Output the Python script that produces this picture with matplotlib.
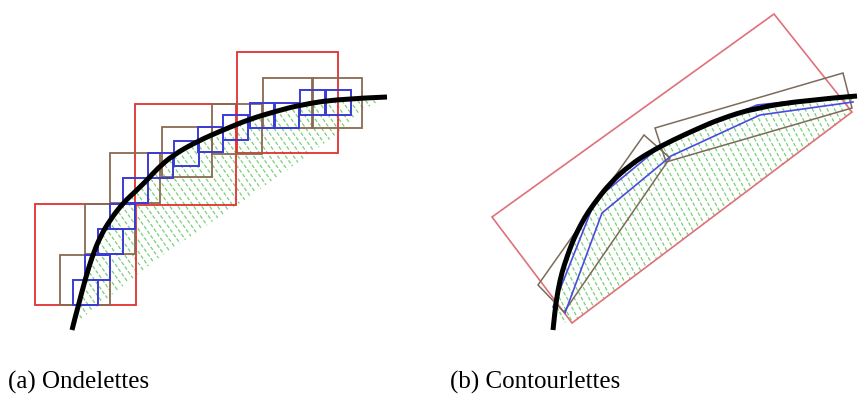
import numpy as np
import matplotlib
matplotlib.use("Agg")
import matplotlib.pyplot as plt
from matplotlib.patches import Polygon, Rectangle, PathPatch
from matplotlib.path import Path

# ---- panel (a): wavelet squares, pixel coords (x, y of top-left corner) ----
red_sq_a = [(35, 204, 101), (135, 104, 101), (237, 52, 101)]
brown_size = 50
brown_sq_a = [(60, 255), (85, 204), (110, 153), (162, 127), (212, 104), (263, 78), (312, 78)]
blue_size = 25
blue_sq_a = [(73, 280), (85, 255), (98, 229), (110, 204), (123, 178), (148, 153),
             (174, 141), (198, 127), (223, 115), (250, 103), (274, 103), (300, 90), (326, 90)]
curve_a_x = [72, 75, 78, 85, 92, 100, 110, 123, 137, 148, 157, 173, 198, 223, 250, 277, 300, 338, 387]
curve_a_y = [330, 318, 307, 280, 257, 237, 220, 203, 190, 179, 169, 155, 141, 130, 119, 111, 105, 99, 97]
lower_a_x = [387, 363, 333, 300, 240, 160, 77]
lower_a_y = [97, 110, 137, 161, 203, 257, 322]

# ---- panel (b): contourlet rectangles ----
red_rect_b = [(492, 217), (774, 14), (852, 112), (572, 323)]
brown_rects_b = [
    [(538, 285), (644, 135), (670, 158), (564, 312)],
    [(655, 128), (843, 73), (852, 108), (666, 162)],
]
blue_upper_b = [(553, 307), (593, 206), (605, 192), (662, 145), (757, 105), (853, 95)]
blue_lower_b = [(565, 313), (602, 213), (671, 156), (760, 115), (853, 102)]
curve_b_x = [553, 555, 558, 562, 567, 572, 578, 585, 593, 610, 630, 650, 673, 697, 720, 755, 807, 857]
curve_b_y = [330, 310, 290, 272, 257, 243, 230, 217, 205, 183, 165, 152, 140, 129, 119, 108, 100, 96]
lower_b_x = [852, 850, 572, 560]
lower_b_y = [100, 115, 323, 322]

captions = ["(a) Ondelettes", "(b) Contourlettes"]
caption_x = [8, 450]

fig = plt.figure(figsize=(8.58, 3.95), dpi=100)
ax = fig.add_axes([0, 0, 1, 1])
ax.set_xlim(0, 858)
ax.set_ylim(395, 0)
ax.axis("off")


def hatch(ax, xs, ys, angle_deg, spacing, color):
    poly = Polygon(list(zip(xs, ys)), closed=True, facecolor="none", edgecolor="none")
    ax.add_patch(poly)
    d = np.array([np.cos(np.radians(angle_deg)), np.sin(np.radians(angle_deg))])
    n = np.array([-d[1], d[0]])
    pts = np.column_stack([xs, ys])
    c = pts.mean(axis=0)
    proj = (pts - c) @ n
    for off in np.arange(proj.min(), proj.max(), spacing):
        p0 = c + n * off - d * 400
        p1 = c + n * off + d * 400
        ln, = ax.plot([p0[0], p1[0]], [p0[1], p1[1]], color=color, lw=0.9,
                      ls=(0, (3, 1.5)), zorder=1)
        ln.set_clip_path(poly)


def smooth_curve(ax, xs, ys):
    # quadratic curve through midpoints, data points as control points
    p = np.column_stack([xs, ys]).astype(float)
    verts = [p[0]]
    codes = [Path.MOVETO]
    for i in range(1, len(p) - 1):
        mid = (p[i] + p[i + 1]) / 2 if i < len(p) - 2 else p[i + 1]
        verts += [p[i], mid]
        codes += [Path.CURVE3, Path.CURVE3]
    ax.add_patch(PathPatch(Path(verts, codes), fill=False, edgecolor="black",
                           lw=3.6, capstyle="butt", zorder=5))


# panel (a)
hatch(ax, curve_a_x + lower_a_x, curve_a_y + lower_a_y, 55, 6.5, "#78d078")
for x, y, s in red_sq_a:
    ax.add_patch(Rectangle((x, y), s, s, fill=False, edgecolor="#e23030", lw=1.3, zorder=2))
for x, y in brown_sq_a:
    ax.add_patch(Rectangle((x, y), brown_size, brown_size, fill=False, edgecolor="#8a6a50", lw=1.3, zorder=3))
for x, y in blue_sq_a:
    ax.add_patch(Rectangle((x, y), blue_size, blue_size, fill=False, edgecolor="#3b3bd6", lw=1.4, zorder=4))
smooth_curve(ax, curve_a_x, curve_a_y)

# panel (b)
hatch(ax, curve_b_x[1:] + lower_b_x, curve_b_y[1:] + lower_b_y, 62, 6.5, "#78d078")
ax.add_patch(Polygon(red_rect_b, closed=True, fill=False, edgecolor="#e0707a", lw=1.2, zorder=2))
for r in brown_rects_b:
    ax.add_patch(Polygon(r, closed=True, fill=False, edgecolor="#7d6a5a", lw=1.1, zorder=3))
ax.plot(*zip(*blue_upper_b), color="#4a4ae0", lw=1.2, zorder=4)
ax.plot(*zip(*blue_lower_b), color="#4a4ae0", lw=1.2, zorder=4)
smooth_curve(ax, curve_b_x, curve_b_y)

for t, x in zip(captions, caption_x):
    ax.text(x, 382, t, fontsize=18, family="Liberation Serif", va="center", ha="left")

fig.savefig("out.png", dpi=100)
